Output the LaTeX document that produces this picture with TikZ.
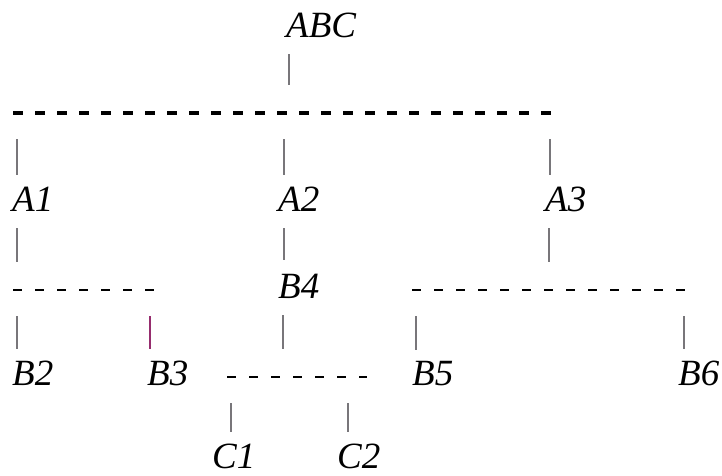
\documentclass[tikz,border=0pt]{standalone}
\usepackage{fontspec}
\setmainfont{Liberation Serif}
\usetikzlibrary{calc}

\definecolor{stemgray}{RGB}{120,118,122}
\definecolor{stempurple}{RGB}{150,45,110}

\begin{document}
\begin{tikzpicture}[
  x=1pt, y=-1pt,
  font=\fontsize{37}{44}\selectfont\itshape,
  lbl/.style={anchor=base west, inner sep=0pt},
  stem/.style={draw=stemgray, line width=1.3pt},
  upstem/.style={stem, shorten <=17pt, shorten >=28pt},
  downstem/.style={stem, shorten <=26pt, shorten >=11pt},
  bigbar/.style={line width=4pt, dash pattern=on 10pt off 12pt},
  bar/.style={line width=2.2pt, dash pattern=on 9pt off 13pt}
]
\useasboundingbox (0,0) rectangle (722,475);

% --- Labels ---
\node[lbl] (abc) at (286, 37)  {ABC};
\node[lbl] (a1)  at (12, 211)  {A1};
\node[lbl] (a2)  at (278, 211) {A2};
\node[lbl] (a3)  at (545, 211) {A3};
\node[lbl] (b4)  at (278, 298) {B4};
\node[lbl] (b2)  at (12, 385)  {B2};
\node[lbl] (b3)  at (147, 385) {B3};
\node[lbl] (b5)  at (412, 385) {B5};
\node[lbl] (b6)  at (678, 385) {B6};
\node[lbl] (c1)  at (212, 468) {C1};
\node[lbl] (c2)  at (337, 468) {C2};

% --- Bars ---
\coordinate (top-l) at (13, 113);   \coordinate (top-r) at (551, 113);
\coordinate (al-l)  at (13, 290);   \coordinate (al-r)  at (154, 290);
\coordinate (ar-l)  at (412, 290);  \coordinate (ar-r)  at (686, 290);
\coordinate (bc-l)  at (227, 377);  \coordinate (bc-r)  at (367, 377);

\draw[bigbar] (top-l) -- (top-r);
\draw[bar] (al-l) -- (al-r);
\draw[bar] (ar-l) -- (ar-r);
\draw[bar] (bc-l) -- (bc-r);

% taps on the bars
\coordinate (t-abc) at (289, 113);
\coordinate (t-a1)  at (17, 113);
\coordinate (t-a2)  at (284, 113);
\coordinate (t-a3)  at (550, 113);
\coordinate (l-a1)  at (17, 290);
\coordinate (l-b2)  at (17, 290);
\coordinate (l-b3)  at (150, 290);
\coordinate (r-a3)  at (549, 290);
\coordinate (r-b5)  at (416, 290);
\coordinate (r-b6)  at (684, 290);
\coordinate (c-b4)  at (283, 377);
\coordinate (c-c1)  at (231, 377);
\coordinate (c-c2)  at (348, 377);

% ABC -> A1, A2, A3
\draw[upstem] (t-abc |- abc.base) -- (t-abc);
\draw[downstem] (t-a1) -- (t-a1 |- a1.north);
\draw[downstem] (t-a2) -- (t-a2 |- a2.north);
\draw[downstem] (t-a3) -- (t-a3 |- a3.north);

% A1 -> B2, B3
\draw[upstem] (l-a1 |- a1.base) -- (l-a1);
\draw[downstem] (l-b2) -- (l-b2 |- b2.north);
\draw[downstem, draw=stempurple] (l-b3) -- (l-b3 |- b3.north);

% A2 -> B4
\draw[stem, shorten <=17pt, shorten >=13pt] (t-a2 |- a2.base) -- (t-a2 |- b4.north);

% A3 -> B5, B6
\draw[upstem] (r-a3 |- a3.base) -- (r-a3);
\draw[downstem] (r-b5) -- (r-b5 |- b5.north);
\draw[downstem] (r-b6) -- (r-b6 |- b6.north);

% B4 -> C1, C2
\draw[upstem] (c-b4 |- b4.base) -- (c-b4);
\draw[downstem] (c-c1) -- (c-c1 |- c1.north);
\draw[downstem] (c-c2) -- (c-c2 |- c2.north);

\end{tikzpicture}
\end{document}
